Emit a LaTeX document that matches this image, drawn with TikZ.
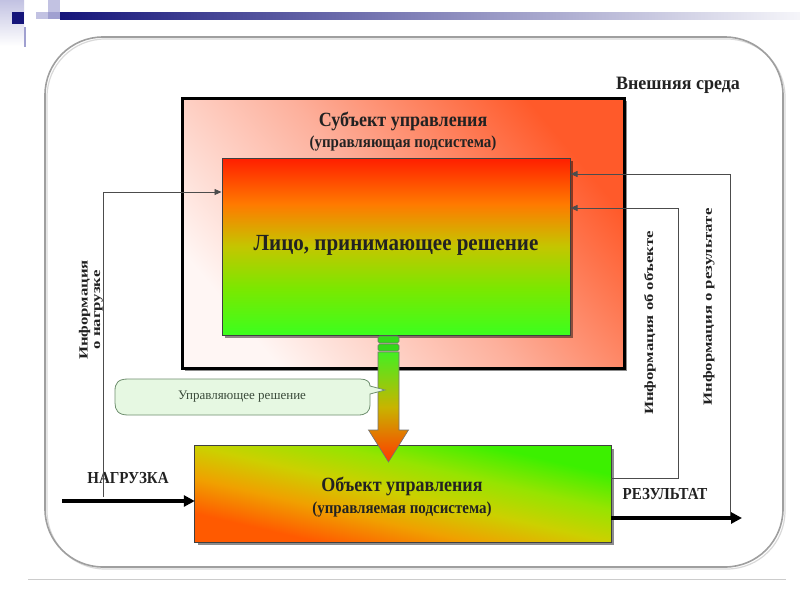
\documentclass[tikz,border=0pt]{standalone}
\usepackage{fontspec}
\setmainfont{Liberation Serif}
\usetikzlibrary{shadows,arrows.meta}
\definecolor{navy}{HTML}{15157A}
\definecolor{lav}{HTML}{C2C2E2}
\definecolor{lavd}{HTML}{A0A0D0}
\definecolor{subjTR}{HTML}{FF5A2A}
\definecolor{subjBL}{HTML}{FFF6F4}
\definecolor{subjM}{HTML}{FDB09C}
\definecolor{lprTop}{HTML}{FF1E00}
\definecolor{lprO}{HTML}{FF7A00}
\definecolor{lprMid}{HTML}{C4C600}
\definecolor{lprG}{HTML}{7AE800}
\definecolor{lprBot}{HTML}{3CFF1E}
\definecolor{objBL}{HTML}{FF5A00}
\definecolor{objO}{HTML}{F0A000}
\definecolor{objM}{HTML}{CCD000}
\definecolor{objG}{HTML}{96E400}
\definecolor{objTR}{HTML}{3CF000}
\definecolor{arTop}{HTML}{44EE22}
\definecolor{arMid}{HTML}{C8B400}
\definecolor{arBot}{HTML}{FF3A00}
\definecolor{calfill}{HTML}{E6F8E2}
\definecolor{caldraw}{HTML}{6F8F6F}
\definecolor{caltext}{HTML}{3A4A3A}
\definecolor{txt}{HTML}{222222}
\pgfdeclareverticalshading{lprsh}{100bp}{color(0bp)=(lprBot); color(25bp)=(lprBot); color(38bp)=(lprG); color(50bp)=(lprMid); color(62bp)=(lprO); color(75bp)=(lprTop); color(100bp)=(lprTop)}
\pgfdeclareverticalshading{objsh}{100bp}{color(0bp)=(objBL); color(25bp)=(objBL); color(38bp)=(objO); color(50bp)=(objM); color(62bp)=(objG); color(75bp)=(objTR); color(100bp)=(objTR)}
\pgfdeclareverticalshading{arsh}{100bp}{color(0bp)=(arBot); color(25bp)=(arBot); color(50bp)=(arMid); color(75bp)=(arTop); color(100bp)=(arTop)}
\begin{document}
\begin{tikzpicture}[x=1pt,y=-1pt,
  lbl/.style={font=\bfseries\fontsize{15}{17}\selectfont, text=txt, inner sep=0pt, yscale=1.12},
  ttl/.style={font=\bfseries\fontsize{18}{20}\selectfont, text=txt, inner sep=0pt, yscale=1.12},
  rot/.style={font=\bfseries\fontsize{12.5}{12.5}\selectfont, text=txt, inner sep=0pt, rotate=90, xscale=1.34, align=center},
  fb/.style={draw=black!70, line width=0.8pt},
  fbarrow/.style={fb, -{Triangle[length=7pt,width=6pt]}},
  bigarrow/.style={line width=3.5pt, -{Triangle[length=11pt,width=11pt]}},
  boxshadow/.style={drop shadow={shadow xshift=3pt, shadow yshift=-3pt, opacity=0.45, fill=black}},
]
\useasboundingbox (0,0) rectangle (800,600);
\fill[white] (0,0) rectangle (800,600);
% slide decoration
\shade[top color=lav, bottom color=white] (0,0) rectangle (24,46);
\fill[navy] (12,12) rectangle (24,24);
\fill[lavd] (24,27) rectangle (26,47);
\fill[lav] (48,0) rectangle (60,12);
\fill[lav] (36,12) rectangle (60,19);
\fill[lavd] (48,12) rectangle (60,19);
\shade[left color=navy, middle color=navy!55!white, right color=navy!4!white] (60,12) rectangle (800,19);
% outer frame (external environment)
\draw[gray!30, line width=1.2pt, rounded corners=58pt] (47,39) rectangle (785,569);
\draw[gray!75, line width=1.6pt, rounded corners=58pt] (45,37) rectangle (783,567);
\draw[gray!40, line width=1pt] (28,579) -- (786,579);
% subject box
\node[draw=black, line width=3pt, minimum width=442pt, minimum height=270pt, inner sep=0pt,
      top color=subjTR, bottom color=subjBL, middle color=subjM, shading angle=-50, boxshadow] (subj) at (403,233) {};
\node[ttl] (subjT) at (403,121) {Субъект управления};
\node[lbl] (subjS) at (403,143) {(управляющая подсистема)};
% decision maker
\node[draw=black!75, line width=1pt, minimum width=348pt, minimum height=177pt, inner sep=0pt,
      shading=lprsh, boxshadow] (lpr) at (396,246.5) {};
\node[font=\bfseries\fontsize{21}{23}\selectfont, text=txt, inner sep=0pt, yscale=1.1] (lprT) at (396,245) {Лицо, принимающее решение};
% object box
\node[minimum width=416pt, minimum height=96pt, inner sep=0pt, fill=objM, boxshadow] (obj) at (403,494) {};
\begin{scope}[transform canvas={shift={(obj.north west)}, xscale=4.16, yscale=0.96}]
  \shade[shading=objsh, shading angle=-45] (0,0) rectangle (100,100);
\end{scope}
\draw[draw=black!75, line width=1pt] (obj.north west) rectangle (obj.south east);
\node[ttl] (objT) at (402,486) {Объект управления};
\node[lbl] (objS) at (402,509) {(управляемая подсистема)};
% decision arrow
\path[draw=black!55, line width=0.6pt, fill=lprBot!85!black, rounded corners=1.5pt] (378,336) rectangle (399,343);
\path[draw=black!55, line width=0.6pt, fill=lprBot!85!black, rounded corners=1.5pt] (378,344) rectangle (399,351);
\path[draw=black!55, line width=0.6pt, shading=arsh]
  (378,352) -- (399,352) -- (399,430) -- (408.5,430) -- (388.5,462) -- (368.5,430) -- (378,430) -- cycle;
% callout
\draw[draw=caldraw, fill=calfill, line width=0.8pt]
  (128,379) -- (360,379) .. controls (367,379) and (370,382) .. (370,386) -- (385,390) -- (370,394) -- (370,404)
  .. controls (370,412) and (366,415) .. (358,415) -- (128,415) .. controls (118,415) and (115,410) .. (115,403)
  -- (115,391) .. controls (115,383) and (118,379) .. (128,379) -- cycle;
\node[font=\fontsize{13}{15}\selectfont, text=caltext, inner sep=0pt] (cl) at (242,397) {Управляющее решение};
% labels
\node[font=\bfseries\fontsize{18}{20}\selectfont, text=txt, inner sep=0pt, yscale=1.05] (env) at (678,85) {Внешняя среда};
\node[lbl] (load) at (128,478) {НАГРУЗКА};
\node[lbl] (res) at (665,494) {РЕЗУЛЬТАТ};
\node[rot] (infl) at (91,310) {Информация\\о нагрузке};
\node[rot] (info) at (650,323) {Информация об объекте};
\node[rot] (infr) at (709,307) {Информация о результате};
% main flows
\coordinate (ls) at (62,501);
\draw[bigarrow] (ls) -- (ls -| obj.west);
\coordinate (re) at (742,518);
\draw[bigarrow] (obj.east |- re) -- (re);
% feedback lines
\coordinate (lv) at (103,497);
\coordinate (lt) at (103,192);
\draw[fbarrow] (lv) -- (lt) -- (lt -| lpr.west);
\coordinate (ob) at (678,478);
\coordinate (ot) at (678,208);
\draw[fbarrow] (ob -| obj.east) -- (ob) -- (ot) -- (ot -| lpr.east);
\coordinate (rb) at (730,516);
\coordinate (rt) at (730,174);
\draw[fbarrow] (rb) -- (rt) -- (rt -| lpr.east);
\end{tikzpicture}
\end{document}
